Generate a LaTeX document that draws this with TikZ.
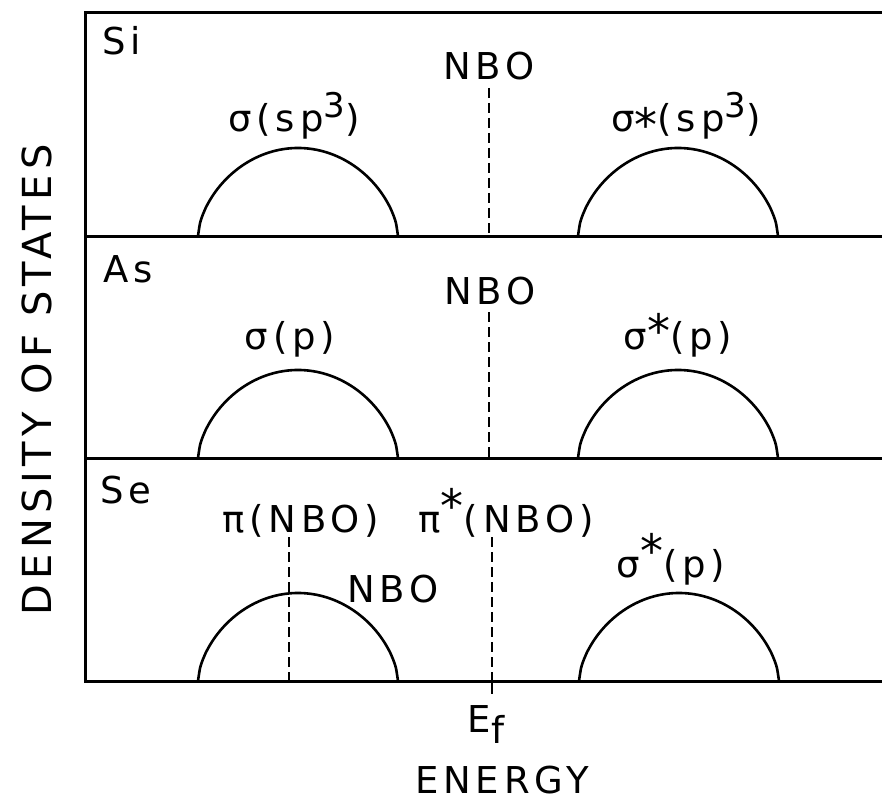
\documentclass[tikz,border=0pt]{standalone}
\usepackage{fontspec}
\setmainfont{DejaVu Sans}[LetterSpace=13]
\newcommand\supr[2]{\raisebox{#1}{#2}}
\newcommand\bigstar{{\fontsize{46}{46}\selectfont *}}
\begin{document}
\begin{tikzpicture}[x=1pt,y=-1pt]
\useasboundingbox (0,0) rectangle (882,802);
\tikzset{
  lbl/.style={inner sep=0pt, anchor=base, font=\fontsize{37}{40}\selectfont},
  lblw/.style={lbl, anchor=base west},
  axisline/.style={line width=3pt},
  band/.style={line width=2.6pt},
  lvl/.style={line width=2.6pt, dash pattern=on 10pt off 5pt},
}
% frame
\draw[axisline] (882,13) -- (85,13) -- (85,681) -- (882,681);
\draw[axisline] (85,236) -- (882,236);
\draw[axisline] (85,458) -- (882,458);
% bands
\foreach \cx/\by in {298/236, 678/236, 298/458, 678/458, 298/681, 679/681}{
  \draw[band] plot[domain=-100:100, samples=101, smooth]
    ({\cx+\x},{\by-88*(max(1-(\x/100)^2,0.00001))^0.6});
}
% Si panel
\node[lblw] (si) at (102,55) {Si};
\node[lbl] (nbo1) at (489,80) {NBO};
\coordinate (d1t) at (489,88);
\coordinate (d1b) at (489,236);
\draw[lvl] (d1t) -- (d1b);
\node[lbl] (sig1) at (294,132) {σ(sp\supr{0.4em}{\fontsize{34}{34}\selectfont 3})};
\node[lbl] (sigs1) at (686,132) {σ\supr{-0.25em}{\bigstar}(sp\supr{0.4em}{\fontsize{34}{34}\selectfont 3})};
% As panel
\node[lblw] (as) at (103,282) {As};
\node[lbl] (nbo2) at (490,304) {NBO};
\coordinate (d2t) at (489,312);
\coordinate (d2b) at (489,458);
\draw[lvl] (d2t) -- (d2b);
\node[lbl] (sig2) at (290,349) {σ(p)};
\node[lbl] (sigs2) at (678,349) {σ\supr{0.05em}{\bigstar}(p)};
% Se panel
\node[lblw] (se) at (100,503) {Se};
\node[lbl] (pi) at (301,532) {π(NBO)};
\node[lbl] (pis) at (506,532) {π\supr{0.25em}{\bigstar}(NBO)};
\node[lbl] (nbo3) at (393,602) {NBO};
\node[lbl] (sigs3) at (671,577) {σ\supr{0.25em}{\bigstar}(p)};
\coordinate (d3t) at (289,537);
\coordinate (d3b) at (289,681);
\draw[lvl] (d3t) -- (d3b);
\coordinate (d4t) at (492,537);
\coordinate (d4b) at (492,672);
\coordinate (tickb) at (492,694);
\draw[lvl] (d4t) -- (d4b);
\draw[line width=2.6pt] (d4b) -- (tickb);
% axis labels
\node[lbl] (ef) at (486,732) {E\supr{-0.3em}{f}};
\node[lbl] (energy) at (502,793) {ENERGY};
\node[lbl, rotate=90, font=\fontsize{40}{44}\selectfont] (dos) at (51,380) {DENSITY OF STATES};
\end{tikzpicture}
\end{document}
